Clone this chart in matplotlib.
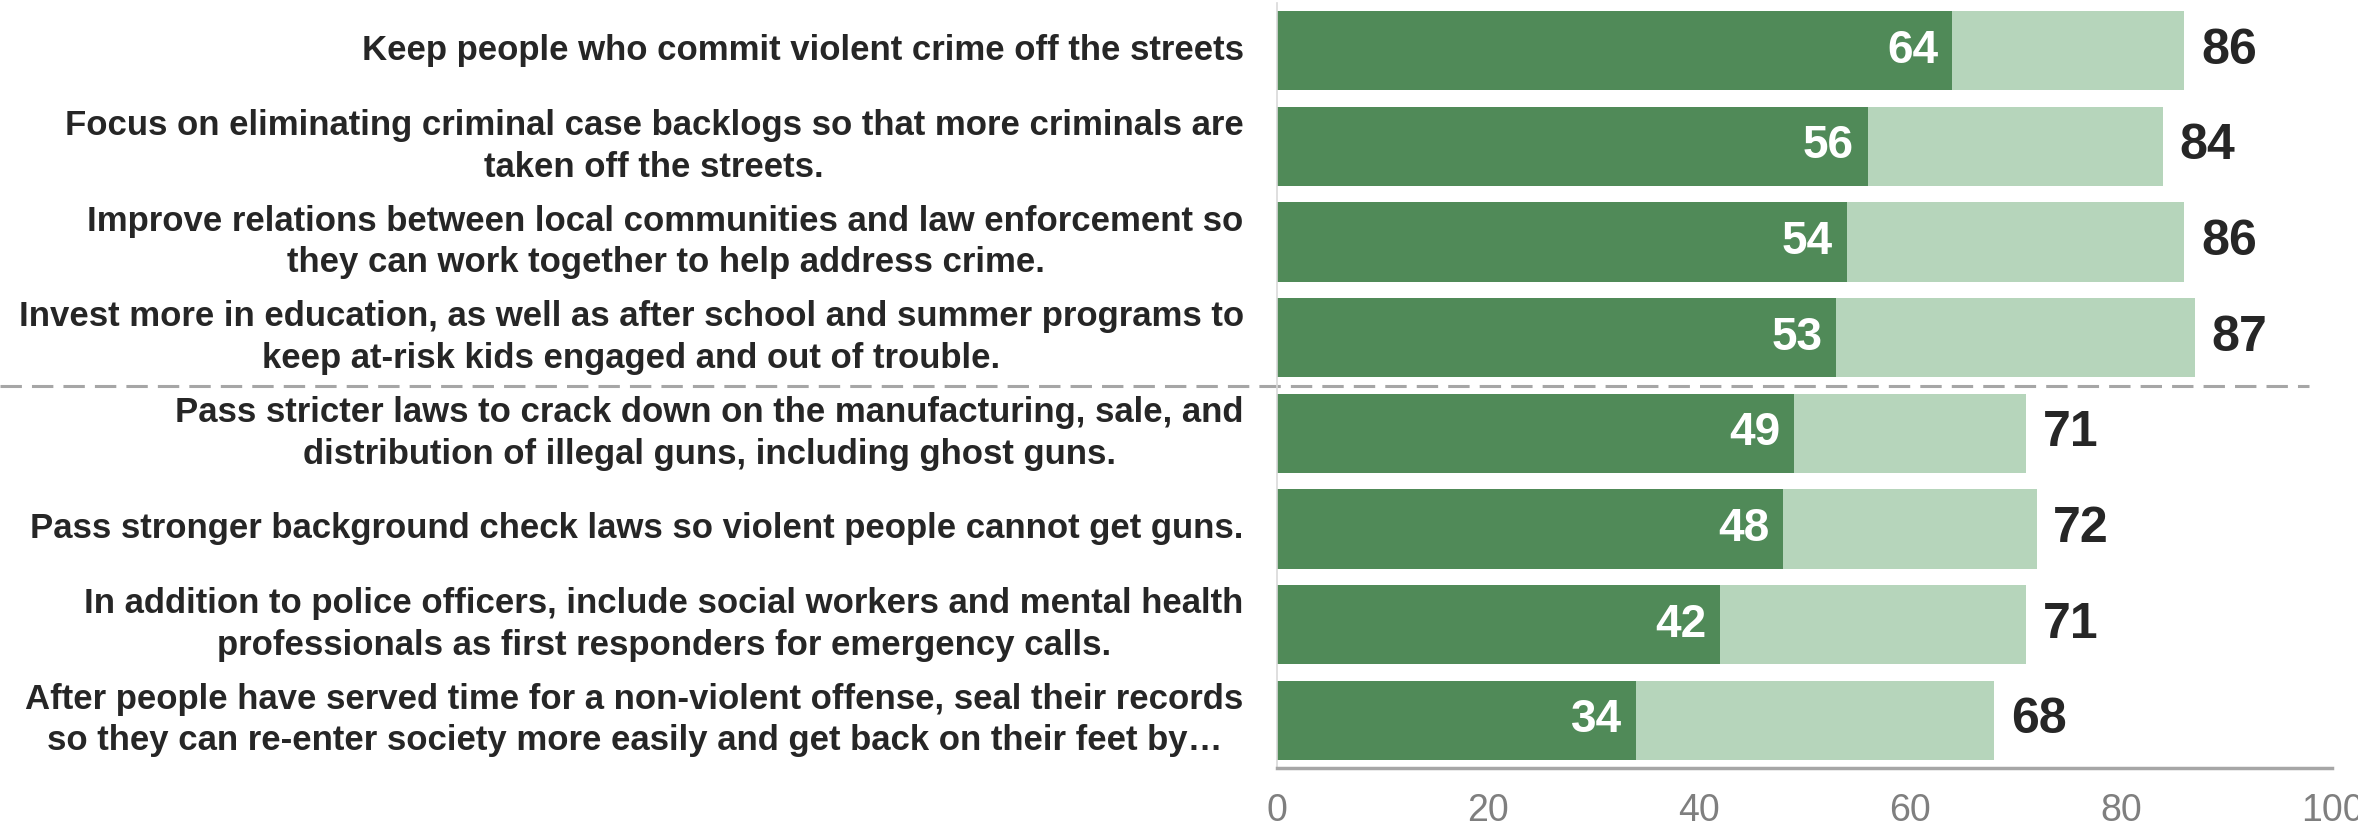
import numpy as np
import matplotlib.pyplot as plt

plt.rcParams['font.family'] = ['Liberation Sans', 'DejaVu Sans']

# data
labels = [
    "Keep people who commit violent crime off the streets",
    "Focus on eliminating criminal case backlogs so that more criminals are\ntaken off the streets.",
    "Improve relations between local communities and law enforcement so\nthey can work together to help address crime.",
    "Invest more in education, as well as after school and summer programs to\nkeep at-risk kids engaged and out of trouble.",
    "Pass stricter laws to crack down on the manufacturing, sale, and\ndistribution of illegal guns, including ghost guns.",
    "Pass stronger background check laws so violent people cannot get guns.",
    "In addition to police officers, include social workers and mental health\nprofessionals as first responders for emergency calls.",
    "After people have served time for a non-violent offense, seal their records\nso they can re-enter society more easily and get back on their feet by\u2026",
]
strong = [64, 56, 54, 53, 49, 48, 42, 34]
total = [86, 84, 86, 87, 71, 72, 71, 68]
xticks = [0, 20, 40, 60, 80, 100]

dark = "#508A58"
light = "#B6D5BB"
txt = "#262626"

fig = plt.figure(figsize=(23.58, 8.27), dpi=100)
ax = fig.add_axes([1277/2358, 1-768/827, (2332-1277)/2358, (768-3)/827])

y = np.arange(len(labels))
ax.barh(y, total, height=0.83, color=light)
ax.barh(y, strong, height=0.83, color=dark)

for i in range(len(labels)):
    ax.annotate(str(strong[i]), (strong[i], y[i]), xytext=(-10, 0), textcoords="offset points",
                ha="right", va="center", color="white", fontsize=33, fontweight="bold")
    ax.annotate(str(total[i]), (total[i], y[i]), xytext=(12, 0), textcoords="offset points",
                ha="left", va="center", color=txt, fontsize=36, fontweight="bold")

ax.set_xlim(0, 100)
ax.set_ylim(7.5, -0.5)
ax.set_yticks(y)
ax.set_yticklabels(labels, fontsize=25, fontweight="bold", color=txt, va="center",
                   multialignment="center", linespacing=1.33)
ax.set_xticks(xticks)
ax.set_xticklabels([str(v) for v in xticks], fontsize=27, color="#7F7F7F")
ax.tick_params(axis="y", length=0, pad=24)
ax.tick_params(axis="x", length=0, pad=18)

for s in ["top", "right"]:
    ax.spines[s].set_visible(False)
ax.spines["left"].set_color("#D9D9D9")
ax.spines["left"].set_linewidth(1.2)
ax.spines["bottom"].set_color("#A6A6A6")
ax.spines["bottom"].set_linewidth(2.5)

# separator between the two groups
ax.axhline(3.5, xmin=-1.21, xmax=0.978, color="#A6A6A6", linestyle=(0, (7, 3.3)),
           linewidth=2.2, clip_on=False)

fig.savefig("out.png", dpi=100)
